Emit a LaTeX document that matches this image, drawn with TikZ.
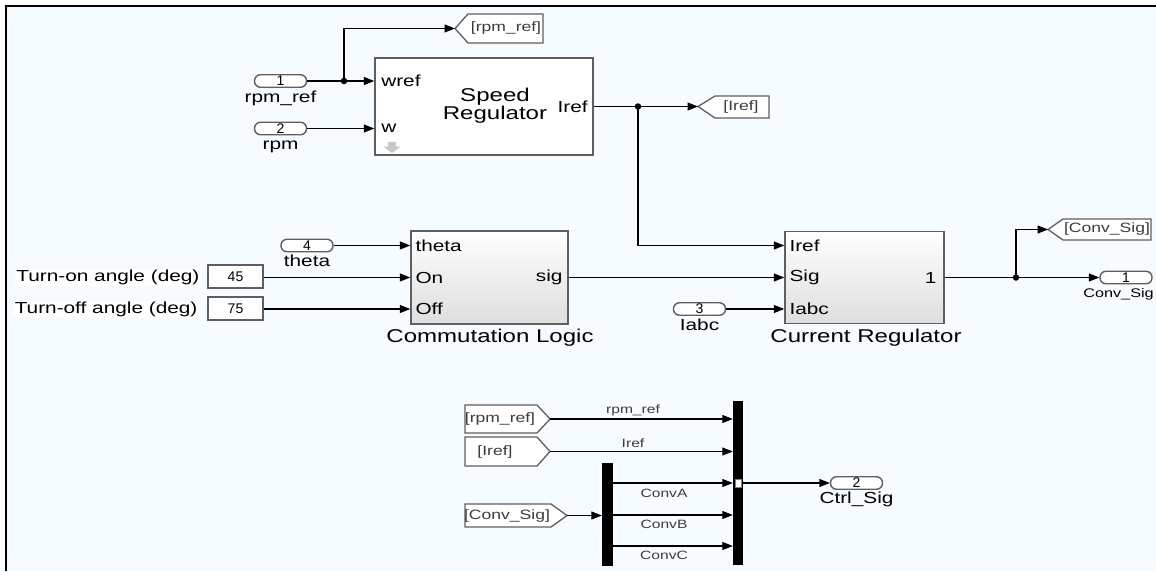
\documentclass[tikz,border=0pt]{standalone}
\usepackage{fontspec}
\setmainfont{Liberation Sans}
\usetikzlibrary{arrows.meta,positioning}

\definecolor{canvas}{RGB}{245,251,255}
\definecolor{edgegray}{RGB}{95,95,95}
\definecolor{labelgray}{RGB}{60,60,60}

\tikzset{
  wire/.style={draw, line width=1.1pt, -{Triangle[length=10.5pt,width=8pt]}},
  plain/.style={draw, line width=1.1pt},
  dot/.style={circle, fill, inner sep=0pt, minimum size=6.5pt},
  block/.style={draw=edgegray, line width=1.5pt, fill=white, inner sep=0pt},
  shadedblock/.style={block, top color=white, bottom color=black!13},
  pill/.style={draw=edgegray, line width=1.4pt, fill=white, rounded corners=6pt,
    minimum width=52pt, minimum height=12.5pt, inner sep=0pt,
    font=\fontsize{14}{14}\selectfont},
  constbox/.style={block, line width=1.3pt, minimum width=55pt, minimum height=23pt,
    font=\fontsize{14}{14}\selectfont},
  tag/.style={draw=edgegray, line width=1.3pt, fill=white},
  bar/.style={fill=black, inner sep=0pt, minimum width=10pt},
  txt/.style={inner sep=0pt, xscale=1.3, font=\fontsize{16}{16}\selectfont},
  title/.style={txt, align=center, font=\fontsize{18.5}{15}\selectfont},
  note/.style={txt, fill=white, inner sep=1pt},
  tagtxt/.style={txt, text=labelgray, font=\fontsize{13.5}{13.5}\selectfont},
  sigtxt/.style={txt, text=labelgray, font=\fontsize{12}{12}\selectfont},
}

\begin{document}
\begin{tikzpicture}[x=1pt, y=-1pt]

    % Canvas
    \useasboundingbox (0,0) rectangle (1156,571);
    \clip (0,0) rectangle (1156,571);
    \fill[white] (0,0) rectangle (1156,571);
    \fill[canvas] (6,6) rectangle (1156,571);
    \draw[line width=1.4pt] (6,571) -- (6,6) -- (1156,6);

    % ---- Speed regulator ----
    \node[block, minimum width=218pt, minimum height=97pt] (spd) at (484,106.5) {};
    \node[txt, anchor=west] (spdWref) at (381,81) {wref};
    \node[txt, anchor=west] (spdW) at (381,128.5) {w};
    \node[txt, anchor=east] (spdIref) at (588,106.5) {Iref};
    \node[title] (spdName) at (495,106) {Speed\\Regulator};
    \fill[black!22] (388,142) -- (396,142) -- (396,146.5) -- (401,146.5)
        -- (392,153) -- (383,146.5) -- (388,146.5) -- cycle;

    \node[pill] (in1) at (280.5,81) {1};
    \node[txt, anchor=base] (in1lbl) at ([yshift=-21pt]in1.center) {rpm\_ref};
    \node[pill] (in2) at (280.5,128.5) {2};
    \node[txt, anchor=base] (in2lbl) at ([yshift=-21pt]in2.center) {rpm};

    % Goto [rpm_ref]
    \draw[tag] (455,28.5) -- (468,14) -- (543,14) -- (543,43) -- (468,43) -- cycle;
    \coordinate (gRpmTip) at (455,28.5);
    \node[tagtxt] (gRpm) at (506,28.5) {[rpm\_ref]};

    % Goto [Iref]
    \draw[tag] (698,106.5) -- (715,96) -- (769,96) -- (769,118) -- (715,118) -- cycle;
    \coordinate (gIrefTip) at (698,106.5);
    \node[tagtxt] (gIref) at (741,107) {[Iref]};

    \node[dot] (j1) at (344,81) {};
    \node[dot] (j2) at (638,106.5) {};
    \draw[wire] (in1.east) -- (in1.east -| spd.west);
    \draw[wire] (j1.center) |- (gRpmTip);
    \draw[wire] (in2.east) -- (in2.east -| spd.west);
    \draw[wire] (spd.east) -- (gIrefTip);

    % ---- Commutation logic ----
    \node[shadedblock, minimum width=157pt, minimum height=93pt] (com) at (489.5,277.5) {};
    \coordinate (comTheta) at ([yshift=32pt]com.west);
    \coordinate (comOff) at ([yshift=-31.5pt]com.west);
    \node[txt, anchor=west] (comThetaLbl) at ([xshift=5pt]comTheta) {theta};
    \node[txt, anchor=west] (comOnLbl) at ([xshift=5pt]com.west) {On};
    \node[txt, anchor=west] (comOffLbl) at ([xshift=5pt]comOff) {Off};
    \node[txt, anchor=east] (comSigLbl) at ([xshift=-6pt]com.east) {sig};
    \node[title, anchor=base] (comName) at (490,342) {Commutation Logic};

    \node[pill] (in4) at (307,245.5) {4};
    \node[txt, anchor=base] (in4lbl) at ([yshift=-21pt]in4.center) {theta};
    \node[constbox] (on) at (235.5,276.5) {45};
    \node[constbox] (off) at (235.5,308.5) {75};
    \node[note, anchor=east] (onLbl) at (201,277.5) {Turn-on angle (deg)};
    \node[note, anchor=east] (offLbl) at (199,309) {Turn-off angle (deg)};

    \draw[wire] (in4.east) -- (comTheta);
    \draw[wire] (on.east |- com.west) -- (com.west);
    \draw[wire] (off.east |- comOff) -- (comOff);

    % ---- Current regulator ----
    \node[shadedblock, minimum width=159pt, minimum height=92pt] (cur) at (864.5,277.5) {};
    \coordinate (curIref) at ([yshift=32pt]cur.west);
    \coordinate (curIabc) at ([yshift=-31.5pt]cur.west);
    \node[txt, anchor=west] (curIrefLbl) at ([xshift=5pt]curIref) {Iref};
    \node[txt, anchor=west] (curSigLbl) at ([xshift=5pt]cur.west) {Sig};
    \node[txt, anchor=west] (curIabcLbl) at ([xshift=5pt]curIabc) {Iabc};
    \node[txt, anchor=east] (curOutLbl) at ([xshift=-8pt]cur.east) {1};
    \node[title, anchor=base] (curName) at (866,342) {Current Regulator};

    \node[pill] (in3) at (699.5,309) {3};
    \node[txt, anchor=base] (in3lbl) at ([yshift=-21pt]in3.center) {Iabc};
    \node[pill] (out1) at (1126,277.5) {1};
    \node[txt, anchor=base east, font=\fontsize{12.5}{12.5}\selectfont]
        (out1lbl) at (1154,297.5) {Conv\_Sig};

    % Goto [Conv_Sig]
    \draw[tag] (1048,229.5) -- (1063,219) -- (1151,219) -- (1151,240) -- (1063,240) -- cycle;
    \coordinate (gConvTip) at (1048,229.5);
    \node[tagtxt] (gConv) at (1107,229.5) {[Conv\_Sig]};

    \node[dot] (j3) at (1016,277.5) {};
    \draw[wire] (j2.center) |- (curIref);
    \draw[wire] (com.east) -- (cur.west);
    \draw[wire] (in3.east) -- (curIabc);
    \draw[wire] (cur.east) -- (out1.west);
    \draw[wire] (j3.center) |- (gConvTip);

    % ---- Mux / Demux ----
    \draw[tag] (465,405) -- (537,405) -- (550,419) -- (537,433) -- (465,433) -- cycle;
    \coordinate (fRpmTip) at (550,419);
    \node[tagtxt] (fRpm) at (500,419) {[rpm\_ref]};

    \draw[tag] (465,437) -- (537,437) -- (550,451.5) -- (537,466) -- (465,466) -- cycle;
    \coordinate (fIrefTip) at (550,451.5);
    \node[tagtxt] (fIref) at (495,452) {[Iref]};

    \draw[tag] (465,504) -- (551,504) -- (567,515.5) -- (551,527) -- (465,527) -- cycle;
    \coordinate (fConvTip) at (567,515.5);
    \node[tagtxt] (fConv) at (507,515.5) {[Conv\_Sig]};

    \node[bar, minimum height=164pt] (mux) at (738,483) {};
    \node[bar, minimum width=11pt, minimum height=103pt] (dmx) at (607.5,514.5) {};
    \node[draw=black!50, fill=white, line width=0.6pt, inner sep=0pt,
        minimum width=6pt, minimum height=8pt] (muxMark) at (738,483) {};
    \coordinate (muxRpm) at ([yshift=64pt]mux.west);
    \coordinate (muxIref) at ([yshift=31.5pt]mux.west);
    \coordinate (muxB) at ([yshift=-32pt]mux.west);
    \coordinate (muxC) at ([yshift=-63pt]mux.west);

    \node[pill] (out2) at (856.5,483) {2};
    \node[txt, anchor=base] (out2lbl) at ([yshift=-20pt]out2.center) {Ctrl\_Sig};

    \draw[wire] (fRpmTip) -- (muxRpm);
    \draw[wire] (fIrefTip) -- (muxIref);
    \draw[wire] (fConvTip) -- (fConvTip -| dmx.west);
    \draw[wire] (mux.west -| dmx.east) -- (mux.west);
    \draw[wire] (muxB -| dmx.east) -- (muxB);
    \draw[wire] (muxC -| dmx.east) -- (muxC);
    \draw[wire] (mux.east) -- (out2.west);

    \node[sigtxt, anchor=south] (lRpm) at (633,416.5) {rpm\_ref};
    \node[sigtxt, anchor=base] (lIref) at (633,447.5) {Iref};
    \node[sigtxt, anchor=base] (lConvA) at (664,497) {ConvA};
    \node[sigtxt, anchor=base] (lConvB) at (664,528) {ConvB};
    \node[sigtxt, anchor=base] (lConvC) at (664,559) {ConvC};

\end{tikzpicture}
\end{document}
